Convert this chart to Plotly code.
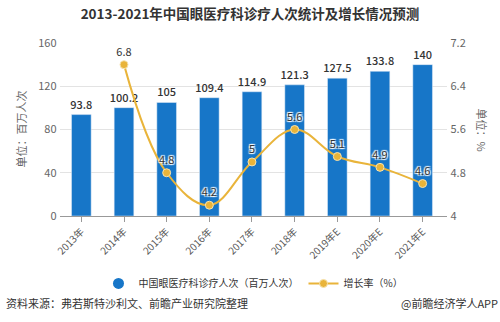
import plotly.graph_objects as go

years = ["2013年", "2014年", "2015年", "2016年", "2017年", "2018年", "2019年E", "2020年E", "2021年E"]
visits = [93.8, 100.2, 105, 109.4, 114.9, 121.3, 127.5, 133.8, 140]
growth_years = years[1:]
growth = [6.8, 4.8, 4.2, 5, 5.6, 5.1, 4.9, 4.6]

BLUE = "#1776C8"
GOLD = "#E9B43A"
CJK = "Noto Sans CJK SC"

fig = go.Figure()

fig.add_trace(go.Bar(
    x=years, y=visits, marker_color=BLUE, showlegend=False,
    text=[f"{v:g}" for v in visits], textposition="outside", textangle=0,
    constraintext="none",
    textfont=dict(family=CJK, size=11, color="#333333", weight=500),
    cliponaxis=False,
))
# legend entry with round marker for the bar series
fig.add_trace(go.Scatter(
    x=[None], y=[None], mode="markers", name="中国眼医疗科诊疗人次（百万人次）",
    marker=dict(symbol="circle", size=11, color=BLUE),
))
fig.add_trace(go.Scatter(
    x=growth_years, y=growth, yaxis="y2", name="增长率（%）",
    mode="lines+markers+text", line=dict(color=GOLD, width=2, shape="spline", smoothing=1.1),
    marker=dict(size=8, color=GOLD, line=dict(color="#f6e3b0", width=1)),
    text=[f"{v:g}" for v in growth], textposition="top center",
    textfont=dict(family=CJK, size=11, color="#333333",
                  shadow="1px 1px 1px #fff, -1px -1px 1px #fff, 1px -1px 1px #fff, -1px 1px 1px #fff"),
    cliponaxis=False,
))

fig.update_layout(
    width=500, height=322,
    margin=dict(l=60, r=53, t=43, b=106),
    plot_bgcolor="white", paper_bgcolor="white",
    font=dict(family=CJK, color="#666666", size=11),
    title=dict(text="<b>2013-2021年中国眼医疗科诊疗人次统计及增长情况预测</b>",
               x=0.5, xanchor="center", y=0.955, yanchor="middle",
               font=dict(family=CJK, size=13.5, color="#333333")),
    bargap=0.54,
    xaxis=dict(tickangle=-45, showline=True, linecolor="#999999", ticks="outside",
               ticklen=5, tickcolor="#999999", tickfont=dict(size=10, color="#555555")),
    yaxis=dict(range=[0, 160], dtick=40, showgrid=True, gridcolor="#e3e3e3",
               zeroline=False, tickfont=dict(size=11, color="#666666"), ticksuffix=" "),
    yaxis2=dict(range=[4, 7.2], dtick=0.8, overlaying="y", side="right",
                showgrid=False, zeroline=False, tickfont=dict(size=11, color="#666666"),
                tickprefix=" "),
    legend=dict(orientation="h", x=0.5, xanchor="center", y=-0.39, yanchor="middle",
                font=dict(size=10, color="#333333"), itemwidth=30),
    annotations=[
        dict(text="单位：百万人次", textangle=-90, x=-40 / 387, xref="paper", xanchor="center",
             y=0.5, yref="paper", showarrow=False, font=dict(size=11, color="#666666")),
        dict(text="单位：%", textangle=90, x=1.0, xref="paper", xshift=35, xanchor="center",
             y=0.5, yref="paper", showarrow=False, font=dict(size=11, color="#666666")),
        dict(text="资料来源：弗若斯特沙利文、前瞻产业研究院整理", x=0, xref="paper", xshift=-56,
             xanchor="left", y=-0.505, yref="paper", yanchor="middle", showarrow=False,
             font=dict(size=11, color="#333333")),
        dict(text="@前瞻经济学人APP", x=1, xref="paper", xshift=53, xanchor="right",
             y=-0.505, yref="paper", yanchor="middle", showarrow=False,
             font=dict(size=11, color="#333333")),
    ],
)

fig.write_html("out.html")
